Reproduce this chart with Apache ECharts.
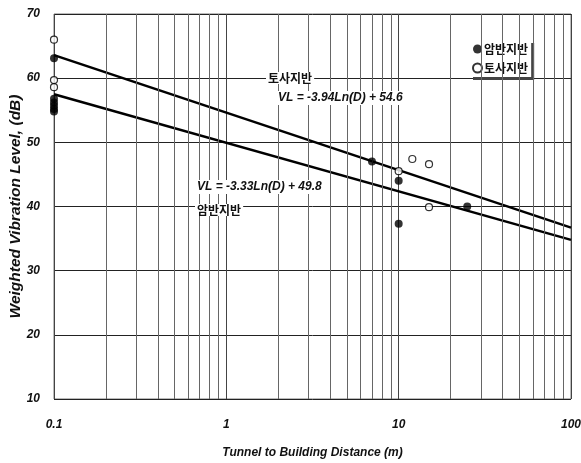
<!DOCTYPE html>
<html><head><meta charset="utf-8">
<script src="https://cdn.jsdelivr.net/npm/echarts@6/dist/echarts.min.js"></script>
<style>html,body{margin:0;padding:0;background:#fff}#c{width:581px;height:463px}</style>
</head><body><div id="c"></div>
<script>
// Data
const rockPoints = [[0.1,63.1],[0.1,56.8],[0.1,56.2],[0.1,55.7],[0.1,55.2],[0.1,54.8],[7,47],[10,44],[10,37.3],[25,40]];
const soilPoints = [[0.1,66],[0.1,59.7],[0.1,58.6],[10,45.5],[12,47.4],[15,46.6],[15,39.9]];
const soilTrend = [[0.1,63.6],[100,36.7]];
const rockTrend = [[0.1,57.5],[100,34.8]];
const xMinorGrid = [0.2,0.3,0.4,0.5,0.6,0.7,0.8,0.9,2,3,4,5,6,7,8,9,20,30,40,50,60,70,80,90];
const legendNames = ['암반지반','토사지반'];
const eqSoil = 'VL = -3.94Ln(D) + 54.6';
const eqRock = 'VL = -3.33Ln(D) + 49.8';
const xTitle = 'Tunnel to Building Distance (m)';
const yTitle = 'Weighted Vibration Level, (dB)';

const F = "'Liberation Sans',Arial,sans-serif";
const K = "'Noto Sans CJK KR',sans-serif";
const chart = echarts.init(document.getElementById('c'), null, {renderer:'canvas'});
chart.setOption({
  animation:false,
  backgroundColor:'#fff',
  grid:{left:54,right:10,top:14,bottom:64,show:true,borderColor:'#777',borderWidth:1,
    outerBoundsMode:'none',containLabel:false},
  xAxis:{type:'log',logBase:10,min:0.1,max:100,
    name:xTitle,nameLocation:'middle',nameGap:48,nameMoveOverlap:false,
    nameTextStyle:{fontFamily:F,fontWeight:'bold',fontStyle:'italic',fontSize:12,color:'#111'},
    axisLine:{show:false},axisTick:{show:false},
    axisLabel:{margin:20,fontFamily:F,fontWeight:'bold',fontStyle:'italic',fontSize:12,color:'#111',
      formatter:v=>String(v)},
    splitLine:{show:true,lineStyle:{color:'#444',width:1}}},
  yAxis:{type:'value',min:10,max:70,interval:10,
    name:yTitle,nameLocation:'middle',nameGap:30,nameRotate:90,nameMoveOverlap:false,
    nameTextStyle:{fontFamily:F,fontWeight:'bold',fontStyle:'italic',fontSize:15.5,color:'#111'},
    axisLine:{show:false},axisTick:{show:false},
    axisLabel:{margin:14,fontFamily:F,fontWeight:'bold',fontStyle:'italic',fontSize:12,color:'#111'},
    splitLine:{show:true,lineStyle:{color:'#222',width:1}}},
  legend:{orient:'vertical',left:470,top:40,itemWidth:9,itemHeight:9,itemGap:7,
    padding:[3,3,3,2],backgroundColor:'#fff',
    shadowColor:'#444',shadowOffsetX:3,shadowOffsetY:3,shadowBlur:0,
    textStyle:{fontFamily:K,fontWeight:'bold',fontSize:12,color:'#111',padding:[0,0,0,-3]},
    data:[{name:legendNames[0],icon:'circle'},{name:legendNames[1],icon:'circle'}]},
  series:[
    {type:'line',data:[],silent:true,
      markLine:{silent:true,symbol:'none',label:{show:false},
        lineStyle:{color:'#666',width:1,type:'solid'},
        data:xMinorGrid.map(v=>({xAxis:v}))}},
    {type:'line',data:soilTrend,showSymbol:false,silent:true,lineStyle:{color:'#000',width:2.5},z:3},
    {type:'line',data:rockTrend,showSymbol:false,silent:true,lineStyle:{color:'#000',width:2.5},z:3},
    {name:legendNames[0],type:'scatter',data:rockPoints,symbol:'circle',symbolSize:8,
      itemStyle:{color:'#000'},z:5},
    {name:legendNames[1],type:'scatter',data:soilPoints,symbol:'circle',symbolSize:7,
      itemStyle:{color:'#fff',borderColor:'#000',borderWidth:1.2},z:5}
  ],
  graphic:[
    {type:'text',left:266,top:72,z:10,style:{text:legendNames[1],font:"bold 12px "+K,fill:'#111',backgroundColor:'#fff',padding:[0,2]}},
    {type:'text',left:276,top:91,z:10,style:{text:eqSoil,font:"italic bold 12px "+F,fill:'#111',backgroundColor:'#fff',padding:[1,2]}},
    {type:'text',left:195,top:180,z:10,style:{text:eqRock,font:"italic bold 12px "+F,fill:'#111',backgroundColor:'#fff',padding:[1,2]}},
    {type:'text',left:195,top:204,z:10,style:{text:legendNames[0],font:"bold 12px "+K,fill:'#111',backgroundColor:'#fff',padding:[0,2]}}
  ]
});
</script></body></html>
